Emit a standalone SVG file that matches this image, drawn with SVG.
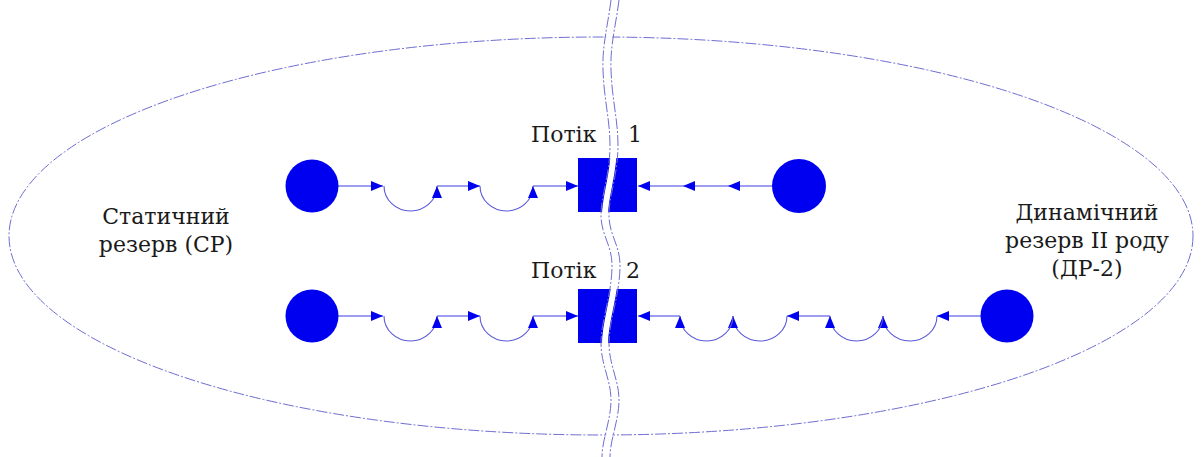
<svg xmlns="http://www.w3.org/2000/svg" width="1201" height="457" viewBox="0 0 1201 457">
<style>
.bg{fill:#ffffff}
.src{fill:#0000f0}
.blk{fill:#0000f0}
.lbl{font-family:"DejaVu Serif","Liberation Serif",serif;font-size:22px;fill:#1a1a1a}
.con{fill:none;stroke:#3c3ce6;stroke-width:1.1}
.arc{fill:none;stroke:#5a5ad8;stroke-width:1.1}
.dd{fill:none;stroke:#6e6ed2;stroke-width:1;stroke-dasharray:11 2 2 2}
.cutw{fill:none;stroke:#ffffff;stroke-width:6}
</style>
<defs>
<marker id="ah" markerUnits="userSpaceOnUse" markerWidth="13" markerHeight="11" refX="12" refY="5" orient="auto">
<path d="M0,0 L12,5 L0,10 Z" fill="#0000f0"/>
</marker>
</defs>
<rect class="bg" x="0" y="0" width="1201" height="457"/>
<g id="region">
<ellipse class="dd" cx="601" cy="236" rx="592" ry="199"/>
</g>
<g id="labels">
<text class="lbl" x="166" y="224" text-anchor="middle">Статичний</text>
<text class="lbl" x="166" y="252" text-anchor="middle">резерв (СР)</text>
<text class="lbl" x="1087" y="220" text-anchor="middle">Динамічний</text>
<text class="lbl" x="1087" y="248" text-anchor="middle">резерв II роду</text>
<text class="lbl" x="1087" y="276" text-anchor="middle">(ДР-2)</text>
</g>
<g id="connectors">
<path class="con" d="M338,186 H383" marker-end="url(#ah)"/>
<path class="arc" d="M384,186 A26.5,25 0 0 0 437,186" marker-end="url(#ah)"/>
<path class="con" d="M437,186 H480" marker-end="url(#ah)"/>
<path class="arc" d="M480,186 A26.5,25 0 0 0 533,186" marker-end="url(#ah)"/>
<path class="con" d="M533,186 H578" marker-end="url(#ah)"/>
<path class="con" d="M772,186 H728" marker-end="url(#ah)"/>
<path class="con" d="M728,186 H683" marker-end="url(#ah)"/>
<path class="con" d="M683,186 H638" marker-end="url(#ah)"/>
<path class="con" d="M338,316 H383" marker-end="url(#ah)"/>
<path class="arc" d="M384,316 A26.5,25 0 0 0 437,316" marker-end="url(#ah)"/>
<path class="con" d="M437,316 H480" marker-end="url(#ah)"/>
<path class="arc" d="M480,316 A26.5,25 0 0 0 533,316" marker-end="url(#ah)"/>
<path class="con" d="M533,316 H578" marker-end="url(#ah)"/>
<path class="con" d="M981,316 H937" marker-end="url(#ah)"/>
<path class="arc" d="M937,316 A27,25 0 0 1 883,316" marker-end="url(#ah)"/>
<path class="arc" d="M883,316 A26.5,25 0 0 1 830,316" marker-end="url(#ah)"/>
<path class="con" d="M830,316 H787" marker-end="url(#ah)"/>
<path class="arc" d="M787,316 A27,25 0 0 1 733,316" marker-end="url(#ah)"/>
<path class="arc" d="M733,316 A26.5,25 0 0 1 680,316" marker-end="url(#ah)"/>
<path class="con" d="M680,316 H638" marker-end="url(#ah)"/>
</g>
<g id="s1-left"><circle class="src" cx="312" cy="186" r="26.5"/></g>
<g id="s1-right"><circle class="src" cx="799" cy="186" r="27"/></g>
<g id="s2-left"><circle class="src" cx="312" cy="316" r="26.5"/></g>
<g id="s2-right"><circle class="src" cx="1007" cy="316" r="26.5"/></g>
<g id="flow1">
<rect class="blk" x="578" y="158" width="59" height="54"/>
<text class="lbl" x="531" y="142">Потік</text>
<text class="lbl" x="628" y="142">1</text>
</g>
<g id="flow2">
<rect class="blk" x="578" y="289" width="59" height="54"/>
<text class="lbl" x="531" y="278">Потік</text>
<text class="lbl" x="626" y="278">2</text>
</g>
<g id="cut">
<path class="cutw" d="M615,0 C612,25 606,45 607,70 C608,100 614,120 614,145 C614,175 605,195 605,215 C605,235 616,245 616,265 C616,295 605,320 605,343 C605,365 615,380 615,400 C615,420 606,440 606,457"/>
<path class="dd" transform="translate(-4,0)" d="M615,0 C612,25 606,45 607,70 C608,100 614,120 614,145 C614,175 605,195 605,215 C605,235 616,245 616,265 C616,295 605,320 605,343 C605,365 615,380 615,400 C615,420 606,440 606,457"/>
<path class="dd" transform="translate(4,0)" d="M615,0 C612,25 606,45 607,70 C608,100 614,120 614,145 C614,175 605,195 605,215 C605,235 616,245 616,265 C616,295 605,320 605,343 C605,365 615,380 615,400 C615,420 606,440 606,457"/>
</g>
</svg>
